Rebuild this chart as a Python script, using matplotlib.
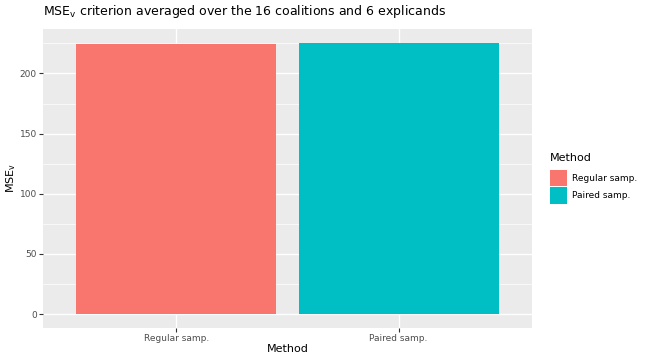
import matplotlib
matplotlib.use("Agg")
import matplotlib.pyplot as plt
from matplotlib.patches import Patch

plt.rcParams['font.family'] = ['DejaVu Sans']
plt.rcParams['mathtext.fontset'] = 'dejavusans'

# data
methods = ["Regular samp.", "Paired samp."]
mse_v = [224.3, 225.7]
colors = ["#F8766D", "#00BFC4"]
y_ticks = [0, 50, 100, 150, 200]
y_minor = [25, 75, 125, 175, 225]

fig = plt.figure(figsize=(6.48, 3.6), dpi=100)
ax = fig.add_axes([43 / 648, 1 - 327.6 / 360, (532 - 43) / 648, (327.6 - 29) / 360])
ax.set_facecolor("#EBEBEB")

x = list(range(1, len(methods) + 1))
ax.bar(x, mse_v, width=0.9, color=colors, zorder=3)

top = max(mse_v)
ax.set_ylim(-0.05 * top, 1.05 * top)
ax.set_xlim(0.4, len(methods) + 0.6)

ax.set_yticks(y_ticks)
ax.set_yticks(y_minor, minor=True)
ax.set_xticks(x)
ax.set_xticklabels(methods)

ax.grid(which="major", color="white", linewidth=1.0, zorder=0)
ax.grid(which="minor", axis="y", color="white", linewidth=0.5, zorder=0)
ax.set_axisbelow(True)
for s in ax.spines.values():
    s.set_visible(False)

ax.tick_params(which="major", length=3, width=0.8, color="#333333",
               labelsize=6.5, labelcolor="#4D4D4D", pad=1.5)
ax.tick_params(which="minor", length=0)

ax.set_xlabel("Method", fontsize=8, labelpad=1)
ax.set_ylabel(r"MSE$_\mathrm{v}$", fontsize=8, labelpad=1)
fig.text(43 / 648, 1 - 12 / 360, r"MSE$_\mathrm{v}$ criterion averaged over the 16 coalitions and 6 explicands",
         fontsize=9, va="center", ha="left")

handles = [Patch(facecolor=c, edgecolor="none") for c in colors]
leg = fig.legend(handles, methods, title="Method", loc="upper left",
                 bbox_to_anchor=(546 / 648, 1 - 149 / 360), frameon=False, fontsize=6.5,
                 title_fontsize=8, handlelength=1.9, handleheight=2.5,
                 handletextpad=0.55, labelspacing=0.05, borderaxespad=0)
leg._legend_box.align = "left"
leg._legend_box.sep = 5

fig.savefig("out.png", dpi=100)
